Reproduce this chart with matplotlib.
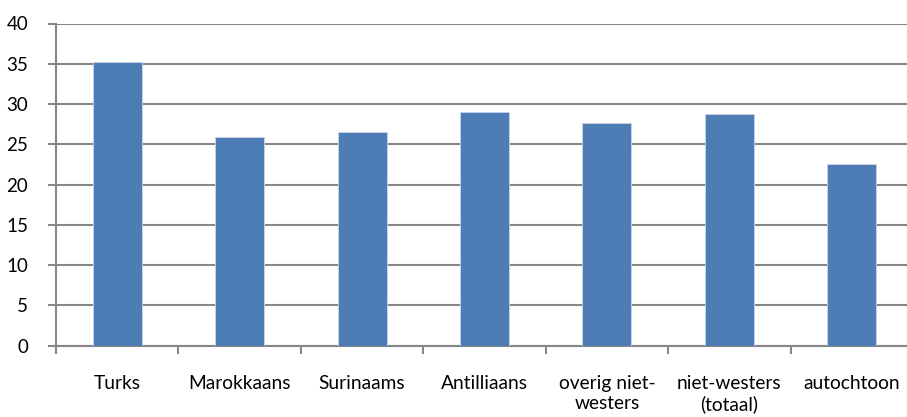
import matplotlib
matplotlib.use("Agg")
import matplotlib.pyplot as plt
import numpy as np

categories = ["Turks", "Marokkaans", "Surinaams", "Antilliaans",
              "overig niet-\nwesters", "niet-westers\n(totaal)", "autochtoon"]
values = [35.2, 25.9, 26.5, 29.0, 27.6, 28.8, 22.5]
yticks = [0, 5, 10, 15, 20, 25, 30, 35, 40]

plt.rcParams['font.family'] = ['Lato', 'DejaVu Sans']

W, H = 907, 417
fig = plt.figure(figsize=(W/100, H/100), dpi=100)
left, right, bottom, top = 56, 913, 345.7, 23.5
ax = fig.add_axes([left/W, (H-bottom)/H, (right-left)/W, (bottom-top)/H])

x = np.arange(len(categories))
grid_c = "#878787"
ax.bar(x, values, width=0.40, color="#4E7DB5", edgecolor="#c9d6ea", linewidth=0.6, zorder=3)

ax.set_xlim(-0.5, len(categories)-0.5)
ax.set_ylim(0, 40)
ax.set_yticks(yticks)
ax.set_yticklabels([str(v) for v in yticks], fontsize=13.5)
ax.yaxis.grid(True, color=grid_c, linewidth=1.5, zorder=0)
ax.set_axisbelow(True)

ax.set_xticks(np.arange(-0.5, len(categories)), labels=[""]*(len(categories)+1))
ax.set_xticks(x, minor=True)
ax.set_xticklabels(categories, minor=True, fontsize=13.8, linespacing=1.25, va="top")
ax.tick_params(axis="x", which="major", length=6, width=1.5, color=grid_c, direction="out")
ax.tick_params(axis="x", which="minor", length=0, pad=21)
ax.tick_params(axis="y", length=6, width=1.5, color=grid_c, pad=14)

for s in ["top", "right"]:
    ax.spines[s].set_visible(False)
ax.spines["left"].set_color(grid_c)
ax.spines["left"].set_linewidth(1.5)
ax.spines["bottom"].set_color(grid_c)
ax.spines["bottom"].set_linewidth(1.5)

fig.savefig("out.png", dpi=100)
